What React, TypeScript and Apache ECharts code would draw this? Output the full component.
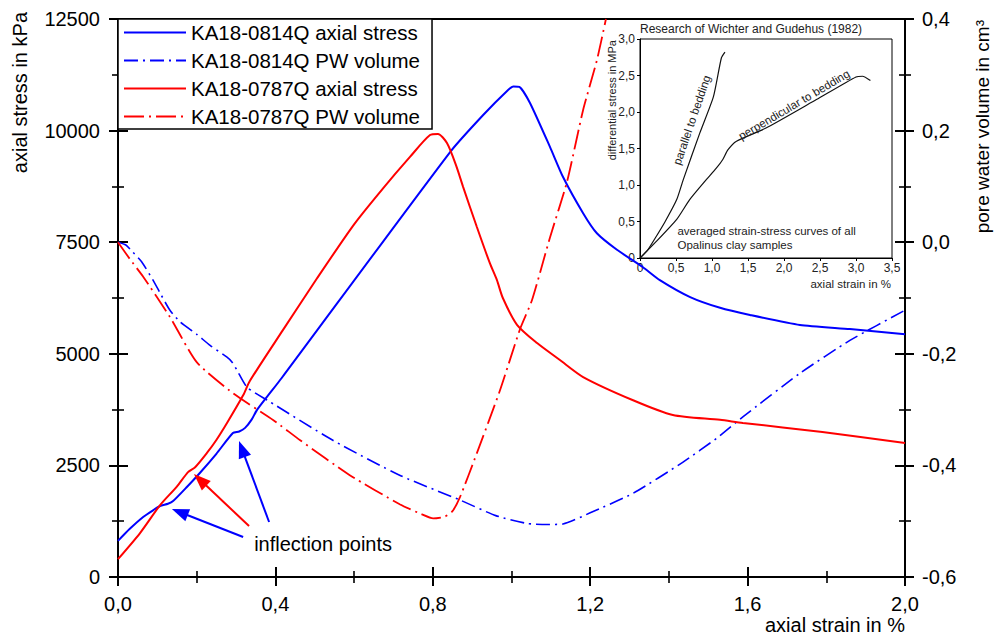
import React, { useEffect, useRef } from "react";
import * as echarts from "echarts";

const FONT = "'Liberation Sans', Arial, Helvetica, sans-serif";

// ---- main chart data: [axial strain %, value] ----
const stress0814: number[][] = [
  [0, 810], [0.03, 1080], [0.064, 1345], [0.09, 1500], [0.107, 1590], [0.127, 1640],
  [0.14, 1700], [0.175, 2016], [0.208, 2330], [0.25, 2760], [0.292, 3226], [0.308, 3260],
  [0.323, 3340], [0.34, 3530], [0.353, 3740], [0.416, 4458], [0.844, 9520], [0.928, 10350],
  [0.99, 10900], [1.005, 10990], [1.02, 10980], [1.047, 10620], [1.098, 9630], [1.131, 8960],
  [1.182, 8150], [1.217, 7700], [1.268, 7330], [1.334, 6940], [1.377, 6650], [1.454, 6270],
  [1.53, 6030], [1.606, 5870], [1.733, 5645], [1.86, 5555], [2.0, 5440],
];
const pw0814: number[][] = [
  [0, 0], [0.02, -0.005], [0.038, -0.018], [0.06, -0.035], [0.089, -0.068], [0.11, -0.095],
  [0.132, -0.122], [0.158, -0.143], [0.2, -0.165], [0.234, -0.185], [0.277, -0.206],
  [0.29, -0.215], [0.302, -0.229], [0.328, -0.26], [0.379, -0.283], [0.546, -0.355],
  [0.717, -0.418], [0.869, -0.462], [0.96, -0.49], [1.039, -0.504], [1.09, -0.506],
  [1.131, -0.505], [1.2, -0.485], [1.309, -0.45], [1.436, -0.394], [1.522, -0.351],
  [1.588, -0.313], [1.733, -0.235], [1.86, -0.176], [2.0, -0.122],
];
const stress0787: number[][] = [
  [0, 400], [0.056, 985], [0.107, 1610], [0.149, 2020], [0.178, 2350], [0.196, 2460],
  [0.226, 2780], [0.25, 3070], [0.277, 3450], [0.318, 4070], [0.335, 4390], [0.419, 5530],
  [0.505, 6680], [0.6, 7900], [0.673, 8700], [0.742, 9410], [0.793, 9900],
  [0.813, 9925], [0.836, 9720], [0.86, 9200], [0.877, 8740], [0.912, 7840], [0.945, 7030],
  [0.963, 6650], [0.978, 6250], [1.014, 5650], [1.065, 5240], [1.123, 4860], [1.182, 4480],
  [1.309, 3960], [1.41, 3630], [1.53, 3520], [1.588, 3450], [1.79, 3250], [2.0, 3000],
];
const pw0787: number[][] = [
  [0, 0], [0.03, -0.03], [0.064, -0.062], [0.132, -0.134], [0.2, -0.215], [0.293, -0.271],
  [0.395, -0.319], [0.463, -0.355], [0.59, -0.418], [0.717, -0.47], [0.77, -0.487],
  [0.801, -0.495], [0.83, -0.492], [0.85, -0.482], [0.869, -0.457], [0.912, -0.378],
  [0.971, -0.265], [1.022, -0.155], [1.052, -0.104], [1.098, 0.009], [1.141, 0.108],
  [1.182, 0.237], [1.217, 0.326], [1.24, 0.4],
];

// ---- inset data (Wichter & Gudehus 1982): [axial strain %, differential stress MPa] ----
const insetParallel: number[][] = [
  [0, 0], [0.1, 0.1], [0.21, 0.27], [0.35, 0.5], [0.51, 0.8], [0.6, 1.07], [0.83, 1.71],
  [1.02, 2.21], [1.13, 2.74], [1.18, 2.82],
];
const insetPerpendicular: number[][] = [
  [0, 0], [0.2, 0.2], [0.51, 0.53], [0.69, 0.8], [0.9, 1.05], [1.06, 1.23], [1.15, 1.35],
  [1.22, 1.48], [1.34, 1.6], [1.75, 1.78], [2.45, 2.17], [3.0, 2.48], [3.09, 2.49], [3.2, 2.43],
];

const seriesNames = [
  "KA18-0814Q axial stress",
  "KA18-0814Q PW volume",
  "KA18-0787Q axial stress",
  "KA18-0787Q PW volume",
];

// inflection point arrows: [tail, tip] in main-chart data coords
const arrowsData: { tail: number[]; tip: number[]; color: string }[] = [
  { tail: [0.318, 896], tip: [0.137, 1523], color: "#0000ff" },
  { tail: [0.333, 1142], tip: [0.193, 2307], color: "#ff0000" },
  { tail: [0.384, 1232], tip: [0.3075, 3047], color: "#0000ff" },
];

const fmt1 = (v: number) => v.toFixed(1).replace(".", ",");
const fmtInt = (v: number) => String(Math.round(v));
const fmtInset = (v: number) => (Math.abs(v) < 1e-9 ? "0" : v.toFixed(1).replace(".", ","));

export default function App() {
  const ref = useRef<HTMLDivElement>(null);
  useEffect(() => {
    const chart = echarts.init(ref.current!, undefined, { renderer: "svg" });
    const axisLineStyle = { color: "#000", width: 2 };
    const mainTickOut = { show: true, inside: false, length: 9, lineStyle: { color: "#000", width: 2 } };
    const mainTickIn = { show: true, inside: true, length: 10, lineStyle: { color: "#000", width: 2 } };
    const minorOut = { show: true, splitNumber: 2, length: 6, lineStyle: { color: "#000", width: 1.6 } };
    const minorIn = { show: true, splitNumber: 2, length: 6, lineStyle: { color: "#000", width: 1.6 } };
    const labelStyle = { color: "#000", fontSize: 20, fontFamily: FONT };

    const option: any = {
      animation: false,
      backgroundColor: "#fff",
      grid: [
        { left: 118, right: 89, top: 19, bottom: 60, show: true, borderColor: "#000", borderWidth: 2, backgroundColor: "transparent" },
        { left: 640, top: 39, width: 252, height: 219, show: true, borderColor: "#000", borderWidth: 1, backgroundColor: "transparent" },
      ],
      legend: {
        data: seriesNames,
        orient: "vertical",
        left: 118,
        top: 19,
        itemWidth: 62,
        itemHeight: 14,
        itemGap: 7,
        padding: [3, 12, 2, 5],
        borderColor: "#000",
        borderWidth: 1.5,
        backgroundColor: "#fff",
        itemStyle: { color: "transparent", opacity: 0, borderWidth: 0 },
        textStyle: { color: "#000", fontSize: 20.5, fontFamily: FONT },
        z: 10,
      },
      xAxis: [
        {
          type: "value", gridIndex: 0, min: 0, max: 2, interval: 0.4, position: "bottom",
          axisLine: { show: true, lineStyle: axisLineStyle },
          axisTick: mainTickOut, minorTick: minorOut,
          axisLabel: { ...labelStyle, margin: 17, formatter: fmt1 },
          splitLine: { show: false },
        },
        {
          type: "value", gridIndex: 0, min: 0, max: 2, interval: 0.4, position: "bottom",
          axisLine: { show: false }, axisTick: mainTickIn, minorTick: minorIn,
          axisLabel: { show: false }, splitLine: { show: false },
        },
        {
          type: "value", gridIndex: 1, min: 0, max: 3.5, interval: 0.5,
          axisLine: { show: true, lineStyle: { color: "#000", width: 1 } },
          axisTick: { show: true, length: 3, lineStyle: { color: "#000", width: 1 } },
          axisLabel: { color: "#222", fontSize: 12, fontFamily: FONT, margin: 4, formatter: fmtInset },
          splitLine: { show: false },
        },
      ],
      yAxis: [
        {
          type: "value", gridIndex: 0, min: 0, max: 12500, interval: 2500, position: "left",
          axisLine: { show: true, lineStyle: axisLineStyle },
          axisTick: mainTickOut, minorTick: minorOut,
          axisLabel: { ...labelStyle, margin: 18, formatter: fmtInt },
          splitLine: { show: false },
        },
        {
          type: "value", gridIndex: 0, min: 0, max: 12500, interval: 2500, position: "left",
          axisLine: { show: false }, axisTick: mainTickIn, minorTick: minorIn,
          axisLabel: { show: false }, splitLine: { show: false },
        },
        {
          type: "value", gridIndex: 0, min: -0.6, max: 0.4, interval: 0.2, position: "right",
          axisLine: { show: true, lineStyle: axisLineStyle },
          axisTick: mainTickOut, minorTick: minorOut,
          axisLabel: { ...labelStyle, margin: 17, formatter: fmt1 },
          splitLine: { show: false },
        },
        {
          type: "value", gridIndex: 0, min: -0.6, max: 0.4, interval: 0.2, position: "right",
          axisLine: { show: false }, axisTick: mainTickIn, minorTick: minorIn,
          axisLabel: { show: false }, splitLine: { show: false },
        },
        {
          type: "value", gridIndex: 1, min: 0, max: 3, interval: 0.5,
          axisLine: { show: true, lineStyle: { color: "#000", width: 1 } },
          axisTick: { show: true, length: 3, lineStyle: { color: "#000", width: 1 } },
          axisLabel: { color: "#222", fontSize: 12, fontFamily: FONT, margin: 5, formatter: fmtInset },
          splitLine: { show: false },
        },
      ],
      series: [
        {
          name: seriesNames[0], type: "line", xAxisIndex: 0, yAxisIndex: 0, data: stress0814,
          symbol: "none", smooth: 0.2, lineStyle: { color: "#0000ff", width: 2 }, itemStyle: { color: "#0000ff" },
        },
        {
          name: seriesNames[1], type: "line", xAxisIndex: 0, yAxisIndex: 2, data: pw0814,
          symbol: "none", smooth: 0.2, lineStyle: { color: "#0000ff", width: 1.6, type: [14, 5, 2, 5] }, itemStyle: { color: "#0000ff" },
        },
        {
          name: seriesNames[2], type: "line", xAxisIndex: 0, yAxisIndex: 0, data: stress0787,
          symbol: "none", smooth: 0.25, lineStyle: { color: "#ff0000", width: 2 }, itemStyle: { color: "#ff0000" },
        },
        {
          name: seriesNames[3], type: "line", xAxisIndex: 0, yAxisIndex: 2, data: pw0787,
          symbol: "none", smooth: 0.2, lineStyle: { color: "#ff0000", width: 1.8, type: [20, 5, 2, 5] }, itemStyle: { color: "#ff0000" },
        },
        {
          name: "parallel to bedding", type: "line", xAxisIndex: 2, yAxisIndex: 4, data: insetParallel,
          symbol: "none", smooth: 0.2, lineStyle: { color: "#111", width: 1.2 }, silent: true,
        },
        {
          name: "perpendicular to bedding", type: "line", xAxisIndex: 2, yAxisIndex: 4, data: insetPerpendicular,
          symbol: "none", smooth: 0.2, lineStyle: { color: "#111", width: 1.2 }, silent: true,
        },
      ],
    };
    chart.setOption(option);

    const toMain = (p: number[]) => chart.convertToPixel({ gridIndex: 0 } as any, p) as number[];
    const toInset = (p: number[]) => chart.convertToPixel({ gridIndex: 1 } as any, p) as number[];

    const graphics: any[] = [];
    arrowsData.forEach((a) => {
      const t = toMain(a.tail);
      const h = toMain(a.tip);
      const dx = h[0] - t[0], dy = h[1] - t[1];
      const len = Math.hypot(dx, dy);
      const ux = dx / len, uy = dy / len;
      const hl = 17, hw = 6.5;
      const bx = h[0] - ux * hl, by = h[1] - uy * hl;
      graphics.push({
        type: "line", shape: { x1: t[0], y1: t[1], x2: bx + ux * 2, y2: by + uy * 2 },
        style: { stroke: a.color, lineWidth: 2 }, z: 20,
      });
      graphics.push({
        type: "polygon",
        shape: { points: [[h[0], h[1]], [bx - uy * hw, by + ux * hw], [bx + uy * hw, by - ux * hw]] },
        style: { fill: a.color }, z: 20,
      });
    });
    const lbl = toMain([0.346, 739]);
    graphics.push({
      type: "text", x: lbl[0], y: lbl[1], z: 20,
      style: { text: "inflection points", font: `20px ${FONT}`, fill: "#000", textAlign: "left", textVerticalAlign: "middle" },
    });
    // axis titles
    graphics.push({
      type: "text", x: 20, y: 12, rotation: Math.PI / 2, z: 20,
      style: { text: "axial stress in kPa", font: `20px ${FONT}`, fill: "#000", textAlign: "right", textVerticalAlign: "middle" },
    });
    graphics.push({
      type: "text", x: 982, y: 20, rotation: Math.PI / 2, z: 20,
      style: { text: "pore water volume in cm³", font: `19px ${FONT}`, fill: "#000", textAlign: "right", textVerticalAlign: "middle" },
    });
    graphics.push({
      type: "text", x: 905, y: 625, z: 20,
      style: { text: "axial strain in %", font: `20px ${FONT}`, fill: "#000", textAlign: "right", textVerticalAlign: "middle" },
    });
    // inset texts
    graphics.push({
      type: "text", x: 640, y: 29, z: 20,
      style: { text: "Research of Wichter and Gudehus (1982)", font: `12px ${FONT}`, fill: "#222", textAlign: "left", textVerticalAlign: "middle" },
    });
    graphics.push({
      type: "text", x: 612, y: 40, rotation: Math.PI / 2, z: 20,
      style: { text: "differential stress in MPa", font: `11px ${FONT}`, fill: "#222", textAlign: "right", textVerticalAlign: "middle" },
    });
    graphics.push({
      type: "text", x: 891, y: 284, z: 20,
      style: { text: "axial strain in %", font: `11.5px ${FONT}`, fill: "#222", textAlign: "right", textVerticalAlign: "middle" },
    });
    const avg = toInset([0.52, 0.46]);
    graphics.push({
      type: "text", x: avg[0], y: avg[1], z: 20,
      style: { text: "averaged strain-stress curves of all\nOpalinus clay samples", font: `11.5px ${FONT}`, fill: "#222", textAlign: "left", textVerticalAlign: "top", lineHeight: 14 },
    });
    const par = toInset([0.72, 1.89]);
    graphics.push({
      type: "text", x: par[0], y: par[1], rotation: (71 * Math.PI) / 180, z: 20,
      style: { text: "parallel to bedding", font: `11.5px ${FONT}`, fill: "#222", textAlign: "center", textVerticalAlign: "middle" },
    });
    const perp = toInset([2.14, 2.1]);
    graphics.push({
      type: "text", x: perp[0], y: perp[1], rotation: (30.5 * Math.PI) / 180, z: 20,
      style: { text: "perpendicular to bedding", font: `11.5px ${FONT}`, fill: "#222", textAlign: "center", textVerticalAlign: "middle" },
    });
    chart.setOption({ graphic: graphics });

    return () => chart.dispose();
  }, []);
  return (
    <div
      ref={ref}
      style={{ position: "absolute", left: 0, top: 0, width: 994, height: 637, background: "#fff" }}
    />
  );
}
